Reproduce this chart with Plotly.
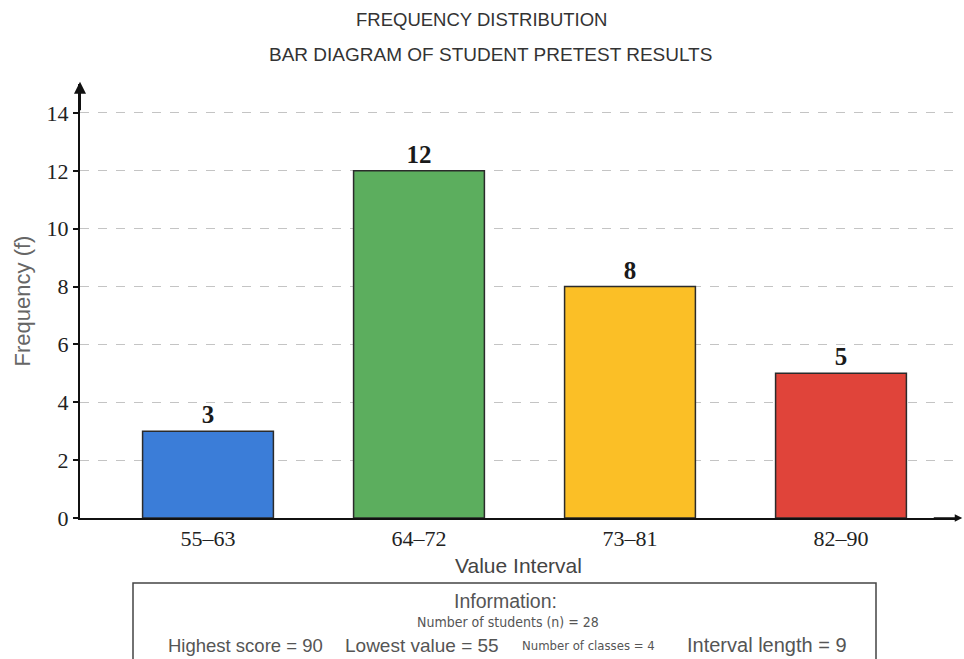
import plotly.graph_objects as go

# Pretest score intervals and how many students fall in each
intervals = ["55\u201363", "64\u201372", "73\u201381", "82\u201390"]
frequencies = [3, 12, 8, 5]
bar_colors = ["#3b7dd8", "#5cae5e", "#fbbf26", "#e0443a"]

y_ticks = [0, 2, 4, 6, 8, 10, 12, 14]

title_lines = ["FREQUENCY DISTRIBUTION", "BAR DIAGRAM OF STUDENT PRETEST RESULTS"]
info_heading = "Information:"
info_students = "Number of students (n) = 28"
info_items = ["Highest score = 90", "Lowest value = 55",
              "Number of classes = 4", "Interval length = 9"]

W, H = 964, 659
L, R, T, B = 80, 7, 84, 141
PW, PH = W - L - R, H - T - B


def px(x):
    return (x - L) / PW


def py(y):
    return (H - B - y) / PH


SERIF = "Liberation Serif, Times New Roman, serif"
SANS = "Liberation Sans, Arial, sans-serif"
NARROW = "Liberation Sans Narrow, DejaVu Sans Condensed, Arial Narrow, sans-serif"


def label(text, x, y, family, size, color):
    return dict(text=text, x=px(x), y=py(y), xref="paper", yref="paper",
                xanchor="center", yanchor="middle", showarrow=False,
                font=dict(family=family, size=size, color=color))


fig = go.Figure(go.Bar(
    x=intervals,
    y=frequencies,
    width=0.62,
    marker=dict(color=bar_colors, line=dict(color="#2b2b2b", width=1.5)),
    text=frequencies,
    texttemplate="<b>%{text}</b>",
    textposition="outside",
    textfont=dict(family=SERIF, size=25, color="#1a1a1a"),
    cliponaxis=False,
))

annotations = [
    label(title_lines[0], 481, 20, SANS, 18.5, "#333"),
    label(title_lines[1], 490, 55, SANS, 19, "#333"),
    label(info_heading, 505, 601, SANS, 19.5, "#555"),
    label(info_students, 508, 622, NARROW, 14, "#555"),
    # arrowheads on both axes
    dict(x=0, y=1.005, xref="paper", yref="paper", ax=0, ay=30, text="",
         showarrow=True, arrowhead=2, arrowsize=1.2, arrowwidth=2, arrowcolor="#111"),
    dict(x=1.006, y=0, xref="paper", yref="paper", ax=-30, ay=0, text="",
         showarrow=True, arrowhead=2, arrowsize=1.0, arrowwidth=1.5, arrowcolor="#111"),
]

item_x = [245, 422, 588, 767]
item_size = [18.5, 19, 13, 20]
item_font = [SANS, SANS, NARROW, SANS]
for text, cx, sz, fam in zip(info_items, item_x, item_size, item_font):
    annotations.append(label(text, cx, 645, fam, sz, "#555"))

fig.update_layout(
    width=W, height=H,
    margin=dict(l=L, r=R, t=T, b=B),
    paper_bgcolor="white", plot_bgcolor="white",
    showlegend=False,
    annotations=annotations,
    shapes=[dict(type="rect", xref="paper", yref="paper",
                 x0=px(133), x1=px(876), y0=py(665), y1=py(583),
                 line=dict(color="#444", width=1.5), fillcolor="rgba(0,0,0,0)")],
    xaxis=dict(
        type="category",
        range=[-0.6066, 3.5498],
        showline=True, linecolor="#111", linewidth=2,
        showgrid=False, ticks="",
        tickfont=dict(family=SERIF, size=22, color="#222"),
        title=dict(text="Value Interval", standoff=8,
                   font=dict(family=SANS, size=21, color="#444")),
    ),
    yaxis=dict(
        range=[0, 15],
        tickvals=y_ticks,
        showline=True, linecolor="#111", linewidth=2,
        ticks="outside", ticklen=5, tickcolor="#111", tickwidth=1.5,
        showgrid=True, gridcolor="#c4c4c4", griddash="dash", gridwidth=1,
        zeroline=False,
        tickfont=dict(family=SERIF, size=22, color="#222"),
        title=dict(text="Frequency (f)", standoff=10,
                   font=dict(family=SANS, size=22, color="#666")),
    ),
)

fig.write_html("out.html")
